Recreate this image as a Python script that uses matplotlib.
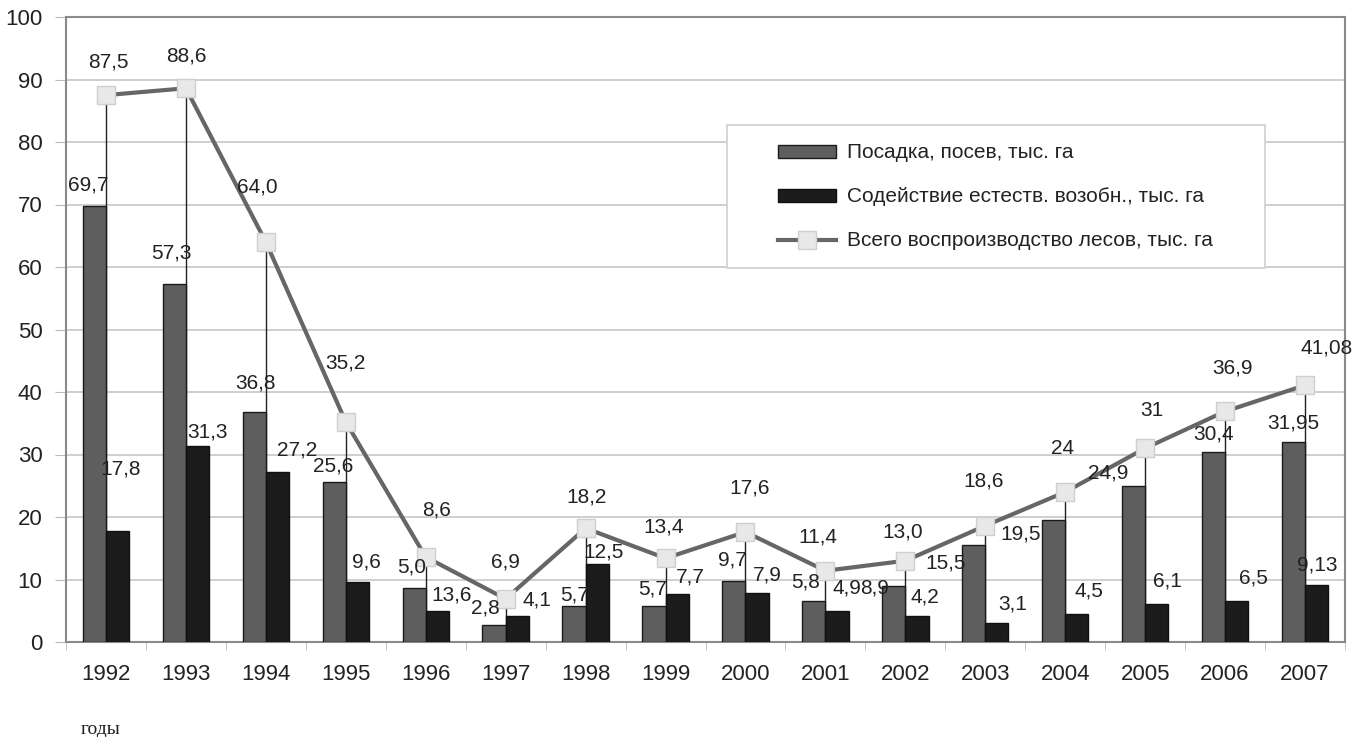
import matplotlib
matplotlib.use("Agg")
import matplotlib.pyplot as plt
from matplotlib.patches import Rectangle
import numpy as np

plt.rcParams['font.family'] = ['Liberation Sans', 'DejaVu Sans']

# data
years = ['1992', '1993', '1994', '1995', '1996', '1997', '1998', '1999',
         '2000', '2001', '2002', '2003', '2004', '2005', '2006', '2007']
planting = [69.7, 57.3, 36.8, 25.6, 8.6, 2.8, 5.7, 5.7, 9.7, 6.5, 8.9, 15.5, 19.5, 24.9, 30.4, 31.95]
natural = [17.8, 31.3, 27.2, 9.6, 5.0, 4.1, 12.5, 7.7, 7.9, 4.9, 4.2, 3.1, 4.5, 6.1, 6.5, 9.13]
total = [87.5, 88.6, 64.0, 35.2, 13.6, 6.9, 18.2, 13.4, 17.6, 11.4, 13.0, 18.6, 24, 31, 36.9, 41.08]

# label texts as printed on the original chart
total_lbl = ['87,5', '88,6', '64,0', '35,2', '8,6', '6,9', '18,2', '13,4',
             '17,6', '11,4', '13,0', '18,6', '24', '31', '36,9', '41,08']
planting_lbl = ['69,7', '57,3', '36,8', '25,6', '5,0', '2,8', '5,7', '5,7',
                '9,7', '5,8', '8,9', '15,5', '19,5', '24,9', '30,4', '31,95']
natural_lbl = ['17,8', '31,3', '27,2', '9,6', '13,6', '4,1', '12,5', '7,7',
               '7,9', '4,9', '4,2', '3,1', '4,5', '6,1', '6,5', '9,13']

# label offsets in pixels (dx, dy) from each point
total_off = [(2, 33), (0, 32), (-9, 55), (0, 59), (11, 47), (0, 37), (1, 31), (-2, 31),
             (4, 44), (-8, 34), (-3, 29), (-2, 45), (-3, 44), (7, 38), (7, 43), (22, 37)]
planting_off = [(-18, 21), (-15, 31), (-10, 29), (-13, 16), (-14, 21), (-20, 16), (-11, 11), (-13, 17),
                (-13, 21), (-20, 19), (-31, -2), (-40, -18), (-45, -14), (-37, 13), (-12, 18), (-12, 19)]
natural_off = [(15, 62), (22, 14), (31, 22), (21, 20), (26, 16), (31, 16), (18, 12), (25, 17),
               (22, 18), (22, 23), (20, 19), (27, 19), (24, 23), (22, 23), (28, 23), (12, 20)]

x = np.arange(len(years))
w = 0.29

fig = plt.figure(figsize=(13.68, 7.37), dpi=100)
ax = fig.add_axes([66 / 1368, 1 - 642 / 737, 1279 / 1368, 625 / 737])

b1 = ax.bar(x - w / 2, planting, w, color='#5e5e5e', edgecolor='#1a1a1a', linewidth=1, zorder=3,
            label='Посадка, посев, тыс. га')
b2 = ax.bar(x + w / 2, natural, w, color='#1c1c1c', edgecolor='#111111', linewidth=1, zorder=3,
            label='Содействие естеств. возобн., тыс. га')
ax.vlines(x, 0, total, color='#222222', linewidth=1, zorder=2)
ln, = ax.plot(x, total, color='#666666', linewidth=3, marker='s', markersize=13,
              markerfacecolor='#e8e8e8', markeredgecolor='#cfcfcf', markeredgewidth=1, zorder=4,
              label='Всего воспроизводство лесов, тыс. га')

for i in range(len(years)):
    ax.annotate(total_lbl[i], (x[i], total[i]), xytext=total_off[i], textcoords='offset pixels',
                ha='center', va='center', fontsize=15, color='#222222', zorder=6)
    ax.annotate(planting_lbl[i], (x[i], planting[i]), xytext=planting_off[i], textcoords='offset pixels',
                ha='center', va='center', fontsize=15, color='#222222', zorder=6)
    ax.annotate(natural_lbl[i], (x[i], natural[i]), xytext=natural_off[i], textcoords='offset pixels',
                ha='center', va='center', fontsize=15, color='#222222', zorder=6)

ax.set_xlim(-0.5, len(years) - 0.5)
ax.set_ylim(0, 100)
ax.set_yticks(range(0, 101, 10))
ax.set_xticks(x)
ax.set_xticklabels(years)
ax.set_xticks(np.arange(-0.5, len(years), 1), minor=True)
ax.tick_params(axis='x', which='major', length=0, pad=16, labelsize=16, labelcolor='#222222')
ax.tick_params(axis='x', which='minor', length=6, color='#bbbbbb')
ax.tick_params(axis='y', length=8, color='#bbbbbb', pad=9, labelsize=16, labelcolor='#222222')
ax.grid(axis='y', color='#cccccc', linewidth=1.3, zorder=0)
ax.set_axisbelow(True)
for s in ax.spines.values():
    s.set_color('#8a8a8a')
    s.set_linewidth(1.5)

# legend box
ax.add_patch(Rectangle((661 / 1279, (642 - 268) / 625), 538 / 1279, 143 / 625,
                       transform=ax.transAxes, facecolor='white', edgecolor='#d0d0d0',
                       linewidth=1.2, zorder=5))
leg = ax.legend(handles=[b1, b2, ln], loc='center left', bbox_to_anchor=(702 / 1279, (642 - 197) / 625),
                frameon=False, fontsize=15, handlelength=2.74, handleheight=0.6,
                labelspacing=1.2, handletextpad=0.55, borderpad=0)
leg.set_zorder(7)
for t in leg.get_texts():
    t.set_color('#222222')

fig.text(101 / 1368, 1 - 730 / 737, 'годы', family=['Liberation Serif', 'DejaVu Serif'],
         fontsize=14, ha='center', va='center', color='#222222')

fig.savefig('out.png', dpi=100)
